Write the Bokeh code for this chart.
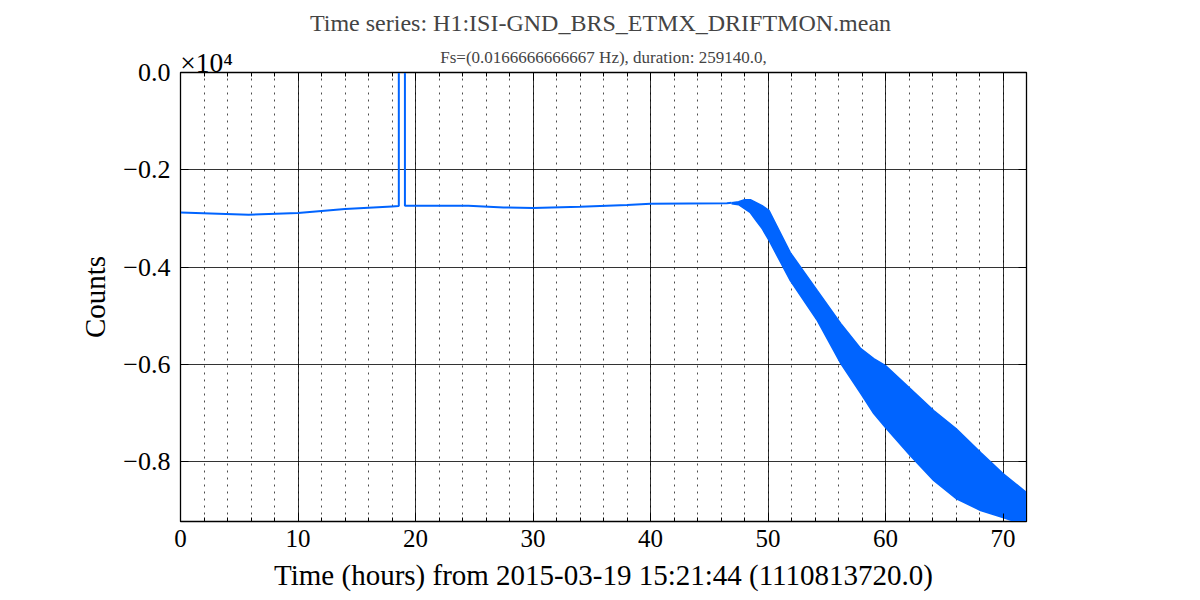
from bokeh.plotting import figure
from bokeh.models import (Range1d, LinearAxis, FixedTicker, CustomJSTickFormatter,
                          Title, Legend, LegendItem)
from bokeh.embed import file_html
from bokeh.resources import INLINE

# ---- data (hours from start, counts) ----
line_hours = [0, 5.8, 10, 14, 18, 18.58, 18.58, 19.1, 19.1, 24.5, 27.5, 30, 34, 38, 40, 46.5, 46.9]
line_counts = [-2877, -2924, -2889, -2807, -2753, -2745, 5000, 5000, -2739, -2739, -2774,
               -2786, -2759, -2724, -2698, -2687, -2680]

band_hours = [46.9, 47.5, 48.0, 48.5, 49.0, 49.5, 50.1, 51.9, 54.2, 56.2, 57.9, 59.0, 60.0,
              62.1, 64.1, 66.0, 68.1, 70.0, 72.0]
band_upper = [-2677, -2657, -2616, -2616, -2677, -2739, -2842, -3704, -4485, -5163, -5677,
              -5882, -6026, -6499, -6951, -7321, -7814, -8245, -8636]
band_lower = [-2698, -2718, -2801, -2883, -3047, -3211, -3458, -4280, -5101, -5985, -6602,
              -7013, -7301, -7876, -8389, -8759, -9006, -9150, -9314]

x_major = [0, 10, 20, 30, 40, 50, 60, 70]
x_minor = list(range(0, 73, 2))
y_major = [-8000, -6000, -4000, -2000, 0]

TITLE = "Time series:  H1:ISI-GND_BRS_ETMX_DRIFTMON.mean"
SUBTITLE = "Fs=(0.0166666666667 Hz), duration: 259140.0,"
XLABEL = "Time (hours) from 2015-03-19 15:21:44 (1110813720.0)"
YLABEL = "Counts"
SCALE_TEXT = "\u00d710\u2074"

BLUE = "#0064FF"
FONT = "Liberation Serif"

p = figure(width=1192, height=592, output_backend="svg", toolbar_location=None,
           x_range=Range1d(0, 72), y_range=Range1d(-9232, 0),
           frame_width=846, frame_height=449,
           min_border_left=180, min_border_right=166, min_border_top=72, min_border_bottom=71)
p.background_fill_color = "white"
p.border_fill_color = "white"
p.outline_line_color = "black"
p.outline_line_width = 1.3

p.varea(x=band_hours, y1=band_upper, y2=band_lower, fill_color=BLUE)
p.line(band_hours, band_upper, line_color=BLUE, line_width=1.5)
p.line(band_hours, band_lower, line_color=BLUE, line_width=1.5)
p.line(line_hours, line_counts, line_color=BLUE, line_width=2)

xt = FixedTicker(ticks=x_major, minor_ticks=x_minor)
yt = FixedTicker(ticks=y_major)
yfmt = CustomJSTickFormatter(code="""
const v = tick/1e4;
if (Math.abs(v) < 1e-9) return '0.0';
return (v < 0 ? '\u2212' : '') + Math.abs(v).toFixed(1);
""")
blank = CustomJSTickFormatter(code="return '';")

xa = p.xaxis[0]
xa.ticker = xt
xa.axis_label = XLABEL
ya = p.yaxis[0]
ya.ticker = yt
ya.formatter = yfmt
ya.axis_label = YLABEL

for ax in (xa, ya):
    ax.axis_line_color = "black"
    ax.major_tick_in = 8
    ax.major_tick_out = 0
    ax.minor_tick_in = 4
    ax.minor_tick_out = 0
    ax.major_tick_line_color = "black"
    ax.minor_tick_line_color = "black"
    ax.major_label_text_font = FONT
    ax.major_label_text_color = "black"
    ax.axis_label_text_font = FONT
    ax.axis_label_text_font_size = "29px"
    ax.axis_label_text_font_style = "normal"
    ax.axis_label_text_color = "black"
xa.major_label_text_font_size = "25px"
ya.major_label_text_font_size = "26px"
ya.minor_tick_line_color = None
xa.major_label_standoff = 8
xa.axis_label_standoff = 9
ya.major_label_standoff = 10
ya.axis_label_standoff = 9

top = LinearAxis(ticker=xt, formatter=blank, major_tick_in=8, major_tick_out=0,
                 minor_tick_in=4, minor_tick_out=0, major_label_standoff=0,
                 axis_line_color="black")
right = LinearAxis(ticker=yt, formatter=blank, major_tick_in=8, major_tick_out=0,
                   minor_tick_line_color=None, major_label_standoff=0, axis_line_color="black")
p.add_layout(top, "above")
p.add_layout(right, "right")

p.xgrid.ticker = xt
p.ygrid.ticker = yt
for g in (p.xgrid, p.ygrid):
    g.grid_line_color = "black"
    g.grid_line_alpha = 0.8
    g.grid_line_width = 1
p.xgrid.minor_grid_line_color = "black"
p.xgrid.minor_grid_line_alpha = 0.7
p.xgrid.minor_grid_line_dash = "2 5"

p.add_layout(Title(text=SUBTITLE, align="center", text_font=FONT, text_font_size="17px",
                   text_font_style="normal", standoff=12), "above")
p.add_layout(Title(text=TITLE, align="center", text_font=FONT, text_font_size="24px",
                   text_font_style="normal", standoff=8), "above")

# the x10^4 multiplier (placed in the right side panel, drawn unclipped)
scale_legend = Legend(items=[LegendItem(label=SCALE_TEXT, renderers=[])],
                      location=(-1346, 208), padding=0, margin=0, spacing=0,
                      glyph_width=0, glyph_height=0, label_width=0, label_height=0,
                      label_standoff=0, border_line_color=None, background_fill_alpha=0,
                      label_text_font=FONT, label_text_font_size="27.5px",
                      label_text_color="black")
p.add_layout(scale_legend, "right")

open("out.html", "w").write(file_html(p, INLINE))
